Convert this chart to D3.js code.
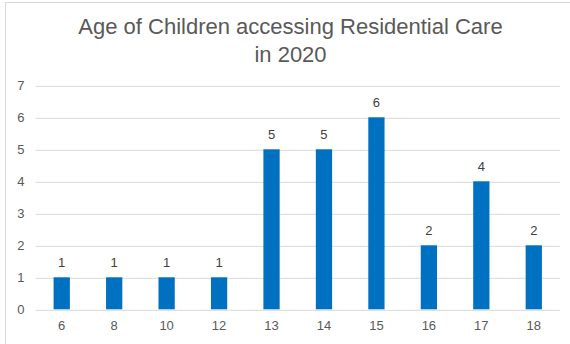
<!DOCTYPE html>
<html>
<head>
<meta charset="utf-8">
<script src="https://cdn.jsdelivr.net/npm/d3@7"></script>
<style>
  html, body { margin: 0; padding: 0; background: #fff; }
  svg { display: block; }
</style>
</head>
<body>
<svg id="chart" width="570" height="344"></svg>
<script>
// Ages of children and how many were in residential care at each age
const ages = ["6", "8", "10", "12", "13", "14", "15", "16", "17", "18"];
const counts = [1, 1, 1, 1, 5, 5, 6, 2, 4, 2];
const yTicks = [0, 1, 2, 3, 4, 5, 6, 7];
const titleLines = ["Age of Children accessing Residential Care", "in 2020"];

const svg = d3.select("#chart");
const font = "Arial, 'Liberation Sans', sans-serif";
const textColor = "#595959";
const gridColor = "#D9D9D9";
const barColor = "#0070C0";

// Chart area frame
svg.append("rect")
  .attr("x", 5.5).attr("y", 2.5)
  .attr("width", 600).attr("height", 400)
  .attr("fill", "#fff")
  .attr("stroke", gridColor).attr("stroke-width", 1);

// Title
svg.append("g").selectAll("text")
  .data(titleLines)
  .join("text")
  .attr("x", 290.5)
  .attr("y", (d, i) => 34 + i * 28)
  .attr("text-anchor", "middle")
  .attr("font-family", font)
  .attr("font-size", 22)
  .attr("fill", textColor)
  .text(d => d);

const x = d3.scaleBand()
  .domain(ages)
  .range([35.5, 560])
  .paddingInner(0.69)
  .paddingOuter(0.345);

const y = d3.scaleLinear()
  .domain([0, 7])
  .range([309.3, 85.3]);

// Horizontal gridlines with value labels on the left
const yAxis = d3.axisLeft(y)
  .tickValues(yTicks)
  .tickFormat(d3.format("d"))
  .tickSize(-(560 - 35.5))
  .tickPadding(11);

const yg = svg.append("g")
  .attr("transform", "translate(35.5,0)")
  .call(yAxis);
yg.select(".domain").remove();
yg.selectAll(".tick line")
  .attr("stroke", gridColor)
  .attr("stroke-width", 1)
  .attr("transform", "translate(0,0.5)");
yg.selectAll(".tick text")
  .attr("font-family", font)
  .attr("font-size", 13)
  .attr("fill", textColor);

// Category labels beneath the baseline
const xAxis = d3.axisBottom(x).tickSize(0).tickPadding(11);
const xg = svg.append("g")
  .attr("transform", "translate(0,309.3)")
  .call(xAxis);
xg.select(".domain").remove();
xg.selectAll(".tick text")
  .attr("font-family", font)
  .attr("font-size", 13)
  .attr("fill", textColor);

const data = ages.map((a, i) => ({ age: a, count: counts[i] }));

// Bars
svg.append("g").selectAll("rect")
  .data(data)
  .join("rect")
  .attr("x", d => x(d.age))
  .attr("y", d => y(d.count))
  .attr("width", x.bandwidth())
  .attr("height", d => y(0) - y(d.count))
  .attr("fill", barColor);

// Value labels above the bars
svg.append("g").selectAll("text")
  .data(data)
  .join("text")
  .attr("x", d => x(d.age) + x.bandwidth() / 2)
  .attr("y", d => y(d.count) - 10)
  .attr("text-anchor", "middle")
  .attr("font-family", font)
  .attr("font-size", 13)
  .attr("fill", "#404040")
  .text(d => d.count);
</script>
</body>
</html>
